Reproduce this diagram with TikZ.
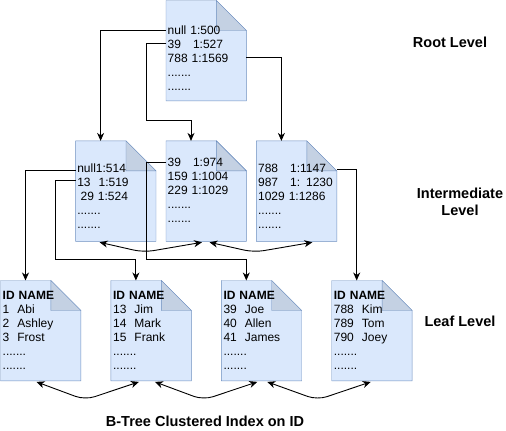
\documentclass[tikz,border=0pt]{standalone}
\usepackage{fontspec}
\setmainfont{Liberation Sans}
\usetikzlibrary{arrows.meta, positioning}
\definecolor{pagefill}{HTML}{DAE8FC}
\definecolor{pageline}{HTML}{6C8EBF}
\definecolor{foldfill}{HTML}{C4D1E3}
\tikzset{
  page/.style={minimum width=80pt, minimum height=100pt, inner sep=0pt, anchor=north west},
  pagetext/.style={font=\fontsize{12pt}{14pt}\selectfont, align=left, text width=78pt, inner sep=0pt, anchor=base west},
  lbl/.style={font=\bfseries\fontsize{14.5pt}{17pt}\selectfont, align=center},
  link/.style={draw, black, line width=0.9pt, -{Stealth[length=8pt, width=7pt, inset=2.5pt]}},
  twoway/.style={draw, black, line width=0.9pt, rounded corners=10pt, {Stealth[length=8pt, width=7pt, inset=2.5pt]}-{Stealth[length=8pt, width=7pt, inset=2.5pt]}}
}
% page with folded corner
\newcommand{\docpage}[1]{
  \draw[pageline, fill=pagefill] (#1.north west) -- ([xshift=-30pt]#1.north east) -- ([yshift=-30pt]#1.north east) -- (#1.south east) -- (#1.south west) -- cycle;
  \draw[pageline, fill=foldfill] ([xshift=-30pt]#1.north east) -- ([xshift=-30pt, yshift=-30pt]#1.north east) -- ([yshift=-30pt]#1.north east) -- cycle;
}
\begin{document}
\begin{tikzpicture}[x=1pt, y=-1pt]
  \useasboundingbox (0,0) rectangle (506,431);

  % Pages
  \node (root) [page] at (166,0.5) {};
  \node (im2) [page, below=40pt of root] {};
  \node (im1) [page, left=10pt of im2] {};
  \node (im3) [page, right=10pt of im2] {};
  \node (lf1) [page] at (0.5,280.5) {};
  \node (lf2) [page, right=30pt of lf1] {};
  \node (lf3) [page, right=30pt of lf2] {};
  \node (lf4) [page, right=30pt of lf3] {};

  \foreach \p in {root, im1, im2, im3, lf1, lf2, lf3, lf4} {\docpage{\p}}

  % Page contents
  \node (root_txt) [pagetext] at ([xshift=1.5pt, yshift=-34pt]root.north west) {null 1:500\\39~~~1:527\\788 1:1569\\.......\\.......};
  \node (im1_txt) [pagetext] at ([xshift=1.5pt, yshift=-32pt]im1.north west) {null1:514\\13~~1:519\\\hspace*{3.3pt}29 1:524\\.......\\.......};
  \node (im2_txt) [pagetext] at ([xshift=1.5pt, yshift=-26pt]im2.north west) {39~~~1:974\\159 1:1004\\229 1:1029\\.......\\.......};
  \node (im3_txt) [pagetext] at ([xshift=1.5pt, yshift=-32pt]im3.north west) {788~~~1:1147\\987~~~1: 1230\\1029 1:1286\\.......\\.......};
  \node (lf1_txt) [pagetext] at ([xshift=2pt, yshift=-19pt]lf1.north west) {\textbf{ID NAME}\\1~~Abi\\2~~Ashley\\3~~Frost\\.......\\.......};
  \node (lf2_txt) [pagetext] at ([xshift=2pt, yshift=-19pt]lf2.north west) {\textbf{ID NAME}\\13~~Jim\\14~~Mark\\15~~Frank\\.......\\.......};
  \node (lf3_txt) [pagetext] at ([xshift=2pt, yshift=-19pt]lf3.north west) {\textbf{ID NAME}\\39~~Joe\\40~~Allen\\41~~James\\.......\\.......};
  \node (lf4_txt) [pagetext] at ([xshift=2pt, yshift=-19pt]lf4.north west) {\textbf{ID NAME}\\788~~Kim\\789~~Tom\\790~~Joey\\.......\\.......};

  % Labels
  \node (root_lbl) [lbl] at (450,42) {Root Level};
  \node (im_lbl) [lbl] at (460,202) {Intermediate\\Level};
  \node (lf_lbl) [lbl] at (460,321) {Leaf Level};
  \node (caption) [lbl] at (205,421) {B-Tree Clustered Index on ID};

  % Root to intermediate
  \draw[link] ([yshift=-30pt]root.north west) -| ([xshift=25pt]im1.north west);
  \draw[link] ([yshift=-43pt]root.north west) -- ++(-20pt,0) |- ([xshift=25pt, yshift=20pt]im2.north west) -- ([xshift=25pt]im2.north west);
  \draw[link] ([yshift=-57pt]root.north east) -| ([xshift=25pt]im3.north west);

  % Intermediate to leaf
  \draw[link] ([yshift=-30pt]im1.north west) -| ([xshift=25pt]lf1.north west);
  \draw[link] ([yshift=-40pt]im1.north west) -- ++(-20.5pt,0) |- ([xshift=25pt, yshift=21.5pt]lf2.north west) -- ([xshift=25pt]lf2.north west);
  \draw[link] ([yshift=-22pt]im2.north west) -- ++(-20pt,0) |- ([xshift=25pt, yshift=21.5pt]lf3.north west) -- ([xshift=25pt]lf3.north west);
  \draw[link] ([yshift=-29pt]im3.north east) -| ([xshift=25pt]lf4.north west);

  % Sibling links
  \draw[twoway] ([xshift=24pt, yshift=-1pt]im1.south west) -- ([xshift=68pt, yshift=-11pt]im1.south west) -- ([xshift=36pt, yshift=-1pt]im2.south west);
  \draw[twoway] ([xshift=43.5pt, yshift=-1pt]im2.south west) -- ([xshift=88pt, yshift=-11pt]im2.south west) -- ([xshift=56pt, yshift=-1pt]im3.south west);
  \draw[twoway] ([xshift=36pt, yshift=-1pt]lf1.south west) -- ([xshift=84.5pt, yshift=-19pt]lf1.south west) -- ([xshift=28pt, yshift=-1pt]lf2.south west);
  \draw[twoway] ([xshift=44pt, yshift=-1pt]lf2.south west) -- ([xshift=92.5pt, yshift=-19pt]lf2.south west) -- ([xshift=36pt, yshift=-1pt]lf3.south west);
  \draw[twoway] ([xshift=46pt, yshift=-1pt]lf3.south west) -- ([xshift=96pt, yshift=-19pt]lf3.south west) -- ([xshift=39pt, yshift=-1pt]lf4.south west);

\end{tikzpicture}
\end{document}
